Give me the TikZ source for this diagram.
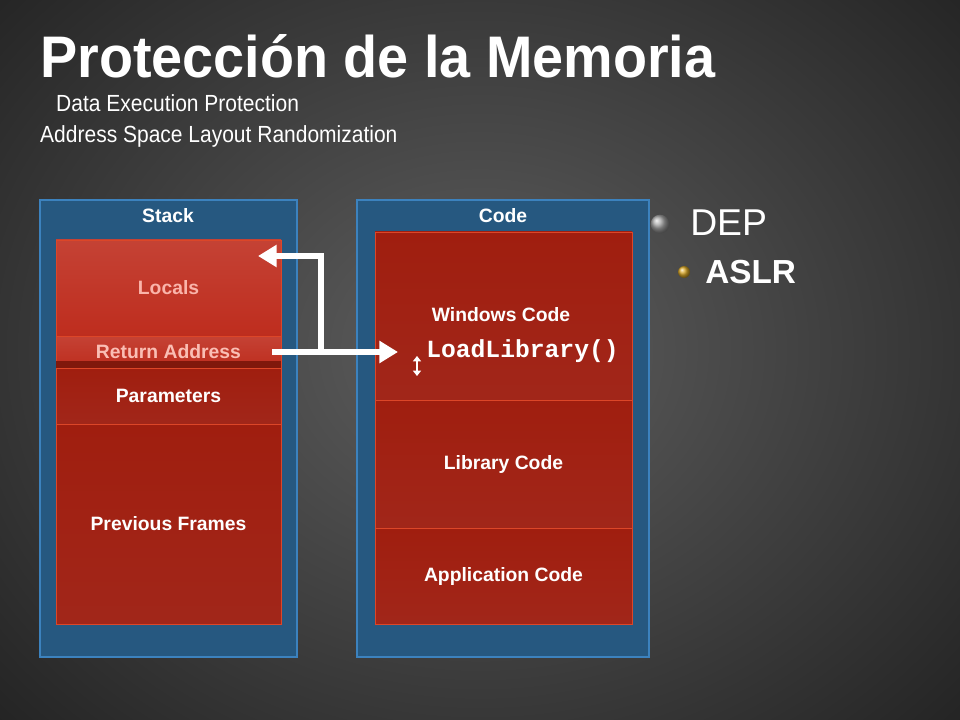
\documentclass[tikz,border=0pt]{standalone}
\usepackage{fontspec}
\setmainfont{Liberation Sans}
\setmonofont{Liberation Mono}
\usetikzlibrary{arrows.meta,shadings}
\definecolor{panel}{RGB}{38,88,128}
\definecolor{redA}{RGB}{190,45,30}
\definecolor{redB}{RGB}{160,30,15}
\tikzset{
 panelbox/.style={draw={rgb,255:red,60;green,130;blue,190},fill=panel,line width=0.8pt},
 block/.style={draw={rgb,255:red,220;green,70;blue,40},line width=0.6pt,top color=redB,bottom color=redA!85!black,text=white,font=\bfseries\fontsize{14.5}{16}\selectfont,inner sep=0pt},
 lbl/.style={text=white,font=\bfseries\fontsize{14.5}{16}\selectfont},
 wire/.style={white,line width=4.5pt},
 tip/.style={-{Triangle[length=14pt,width=16pt]}}
}
\begin{document}
\begin{tikzpicture}[x=0.75pt,y=-0.75pt]
\useasboundingbox (0,0) rectangle (960,720);
\shade[inner color={rgb,255:red,95;green,95;blue,95},outer color={rgb,255:red,25;green,25;blue,25}] (-300,-300) rectangle (1260,1000);
% title
\node[anchor=base west,text=white,font=\bfseries\fontsize{44}{48}\selectfont,inner sep=0pt,xscale=0.95] (title) at (40,78) {Protección de la Memoria};
\node[anchor=base west,text=white,font=\fontsize{17.5}{18}\selectfont,inner sep=0pt,xscale=0.9] (sub1) at (56,112) {Data Execution Protection};
\node[anchor=base west,text=white,font=\fontsize{17.5}{18}\selectfont,inner sep=0pt,xscale=0.9] (sub2) at (40,143) {Address Space Layout Randomization};
% panels
\draw[panelbox] (40,200) rectangle (297,657);
\draw[panelbox] (357,200) rectangle (649,657);
\node[lbl] (stk) at (168,216) {Stack};
\node[lbl] (cod) at (503,216) {Code};
% stack blocks
\node[block,top color=redA!90!white,bottom color=redA,minimum width=225*0.75pt,minimum height=96*0.75pt,text={rgb,255:red,250;green,180;blue,170}] (loc) at (168.5,288) {Locals};
\node[block,top color=redA!90!white,bottom color=redA,minimum width=225*0.75pt,minimum height=32*0.75pt,text={rgb,255:red,250;green,190;blue,180}] (ret) at (168.5,352) {Return Address};
\fill[redB!80!black] (56,361) rectangle (281,368);
\node[block,minimum width=225*0.75pt,minimum height=56*0.75pt] (par) at (168.5,396) {Parameters};
\node[block,minimum width=225*0.75pt,minimum height=200*0.75pt] (prev) at (168.5,524) {Previous Frames};
% code blocks
\node[block,minimum width=257*0.75pt,minimum height=168*0.75pt] (win) at (503.5,316) {};
\node[lbl] (wint) at (501,315) {Windows Code};
\node[anchor=west,text=white,font=\ttfamily\bfseries\fontsize{18.5}{20}\selectfont,inner sep=0pt] (ll) at (426,351) {LoadLibrary()};
\coordinate (ua) at (417,356);
\coordinate (ub) at (417,376);
\draw[white,line width=2pt,{Triangle[length=4pt,width=6pt]}-{Triangle[length=4pt,width=6pt]}] (ua) -- (ub);
\node[block,minimum width=257*0.75pt,minimum height=128*0.75pt] (lib) at (503.5,464) {Library Code};
\node[block,minimum width=257*0.75pt,minimum height=96*0.75pt] (app) at (503.5,576) {Application Code};
% arrows
\coordinate (s) at (272,352);
\coordinate (e) at (398,352);
\coordinate (j) at (321,352);
\coordinate (c) at (321,256);
\coordinate (t) at (258,256);
\draw[wire,tip] (s) -- (e);
\draw[wire,tip] (j) -- (c) -- (t);
% bullets
\shade[ball color=gray!70!white] (660,224) circle (7pt);
\node[anchor=base west,text=white,font=\fontsize{28}{32}\selectfont,inner sep=0pt] (dep) at (690,236) {DEP};
\shade[ball color={rgb,255:red,220;green,170;blue,40}] (684,272) circle (4.5pt);
\node[anchor=base west,text=white,font=\bfseries\fontsize{25}{30}\selectfont,inner sep=0pt] (aslr) at (705,284) {ASLR};
\end{tikzpicture}
\end{document}
